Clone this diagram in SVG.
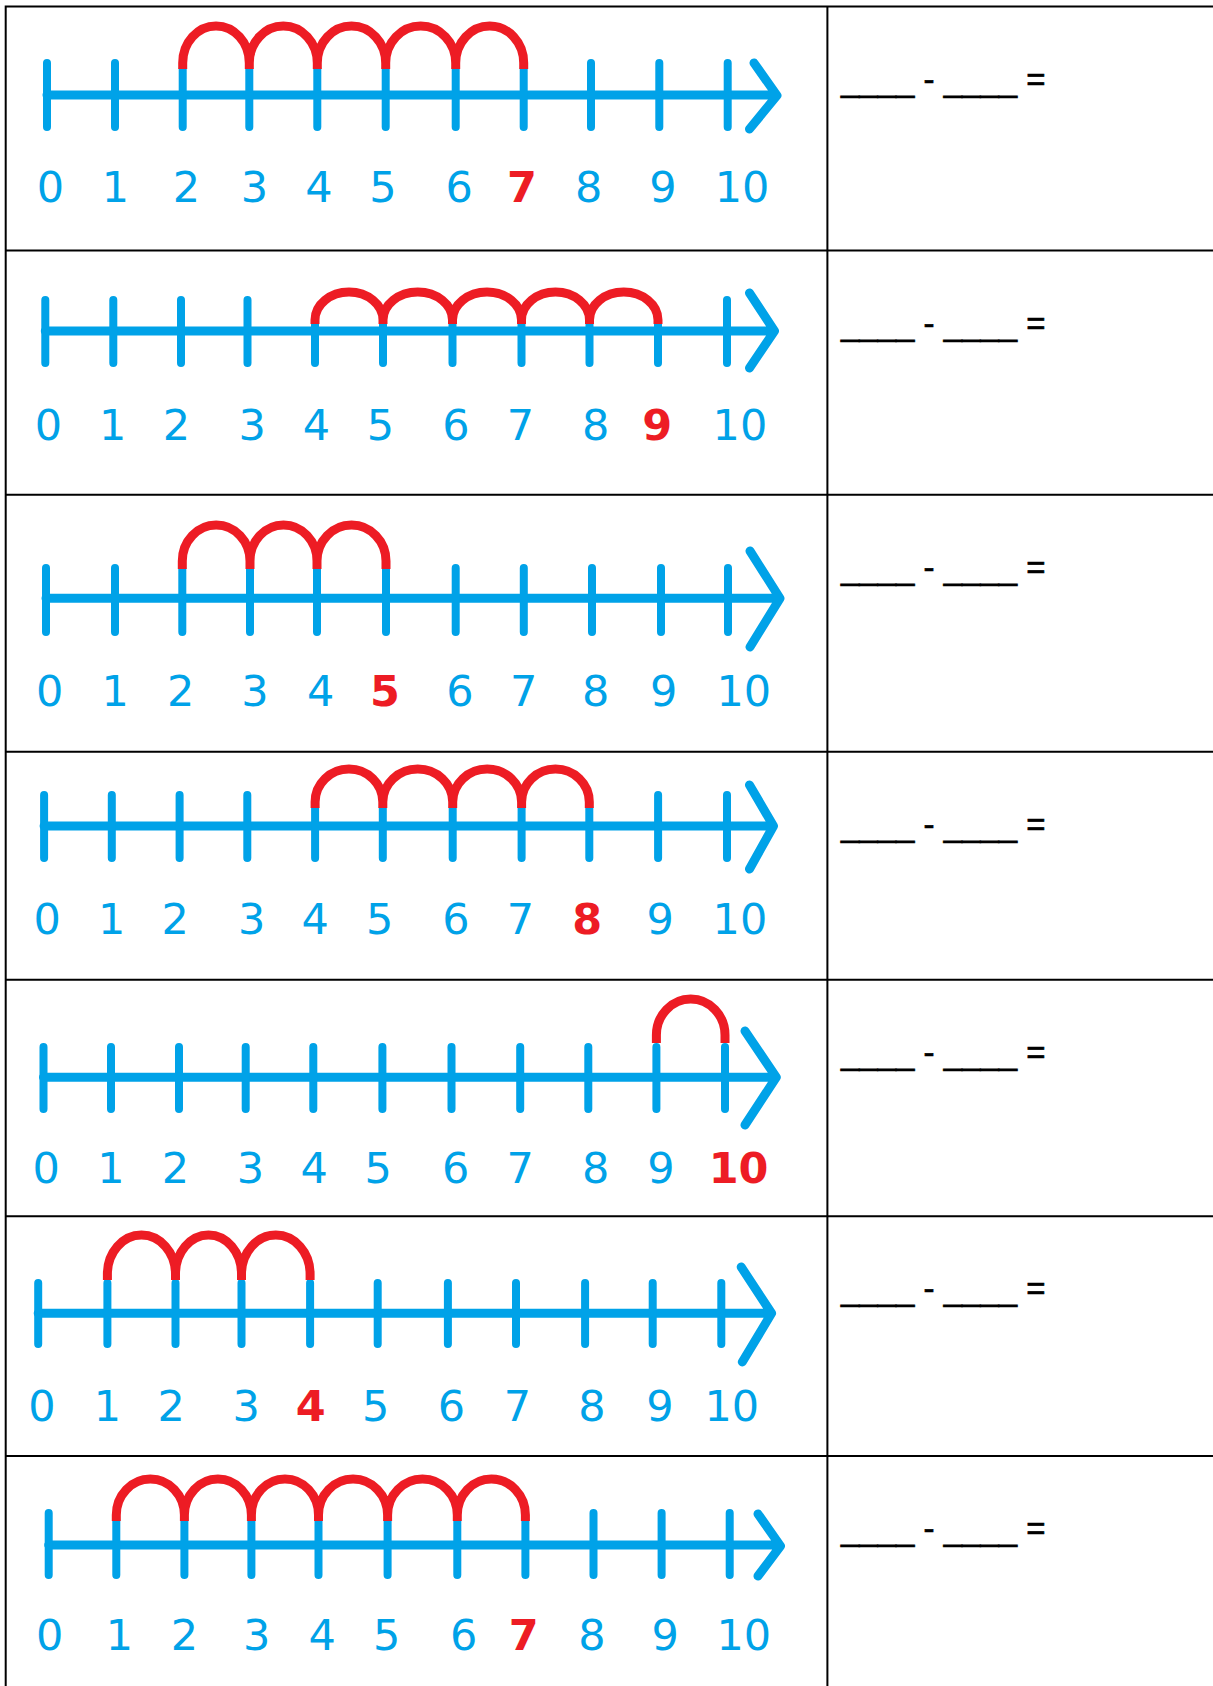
<svg xmlns="http://www.w3.org/2000/svg" width="1213" height="1686" viewBox="0 0 1213 1686">
<style>
.bg{fill:#ffffff}
.grid{stroke:#000;stroke-width:2;fill:none}
.ax{stroke:#00A2E8;stroke-width:9;fill:none;stroke-linecap:round;stroke-linejoin:round}
.tk{stroke:#00A2E8;stroke-width:8;fill:none;stroke-linecap:round}
.jp{stroke:#ED1C24;stroke-width:9;fill:none;stroke-linecap:butt}
.lb{font-family:"DejaVu Sans",sans-serif;font-size:43px;fill:#00A2E8;text-anchor:middle}
.lr{font-family:"DejaVu Sans",sans-serif;font-size:43px;font-weight:bold;fill:#ED1C24;text-anchor:middle}
.eq{font-family:"Liberation Sans",Arial,sans-serif;font-size:33px;fill:#000;stroke:#000;stroke-width:0.7}
</style>
<rect class="bg" x="0" y="0" width="1213" height="1686"/>
<g id="table">
<path class="grid" d="M5.7 5.5V1686M827.4 5.5V1686M4.7 6.5H1213M4.7 250.6H1213M4.7 494.7H1213M4.7 751.7H1213M4.7 979.7H1213M4.7 1216.3H1213M4.7 1456.1H1213"/>
</g>

<g id="row1">
<path class="ax" d="M47 95H776M754 63L777 95.5L749.5 129"/>
<path class="tk" d="M47 63V127M115 63V127M182.7 69V127M249.3 69V127M317.3 69V127M385.7 69V127M455.7 69V127M523.7 69V127M591 63V127M659.3 63V127M727.7 63V127"/>
<path class="jp" d="M182.7 69V63A33.3 37 0 0 1 249.3 63V69M249.3 69V63A34 37 0 0 1 317.3 63V69M317.3 69V63A34.2 37 0 0 1 385.7 63V69M385.7 69V63A35 37 0 0 1 455.7 63V69M455.7 69V63A34 37 0 0 1 523.7 63V69"/>
<text class="lb" y="201.5"><tspan x="50.5">0</tspan><tspan x="115.5">1</tspan><tspan x="186.5">2</tspan><tspan x="254.5">3</tspan><tspan x="319">4</tspan><tspan x="383">5</tspan><tspan x="459.3">6</tspan></text>
<text class="lr" x="522" y="201.5">7</text>
<text class="lb" y="201.5"><tspan x="588.8">8</tspan><tspan x="663">9</tspan><tspan x="742">10</tspan></text>
<text class="eq" x="841" y="90.5">____ - ____ =</text>
</g>

<g id="row2">
<path class="ax" d="M45.3 331H774M749.5 293L774.5 331L749.5 368"/>
<path class="tk" d="M45.3 300V363M113.3 300V363M181 300V363M247.5 300V363M315 324V363M383 324V363M452.5 324V363M521.5 324V363M589.5 324V363M658 324V363M727 300V363"/>
<path class="jp" d="M315 324V320A34 28 0 0 1 383 320V324M383 324V320A34.75 28 0 0 1 452.5 320V324M452.5 324V320A34.5 28 0 0 1 521.5 320V324M521.5 324V320A34 28 0 0 1 589.5 320V324M589.5 324V320A34.25 28 0 0 1 658 320V324"/>
<text class="lb" y="440"><tspan x="48.5">0</tspan><tspan x="112.8">1</tspan><tspan x="176.5">2</tspan><tspan x="252.3">3</tspan><tspan x="316.5">4</tspan><tspan x="380.5">5</tspan><tspan x="456">6</tspan><tspan x="520.5">7</tspan><tspan x="595.8">8</tspan></text>
<text class="lr" x="657.1" y="440">9</text>
<text class="lb" x="739.9" y="440">10</text>
<text class="eq" x="841" y="334.6">____ - ____ =</text>
</g>

<g id="row3">
<path class="ax" d="M46 598.3H779M750 551L780 598.3L750 647"/>
<path class="tk" d="M46 568V632M115 568V632M182.3 569V632M250 569V632M317 569V632M386 569V632M455.7 568V632M523.8 568V632M592 568V632M661 568V632M728 568V632"/>
<path class="jp" d="M182.3 569V561A33.85 36 0 0 1 250 561V569M250 569V561A33.5 36 0 0 1 317 561V569M317 569V561A34.5 36 0 0 1 386 561V569"/>
<text class="lb" y="706"><tspan x="49.8">0</tspan><tspan x="115.2">1</tspan><tspan x="180.7">2</tspan><tspan x="255">3</tspan><tspan x="320.6">4</tspan></text>
<text class="lr" x="385" y="706">5</text>
<text class="lb" y="706"><tspan x="460">6</tspan><tspan x="523.8">7</tspan><tspan x="595.6">8</tspan><tspan x="663.7">9</tspan><tspan x="743.8">10</tspan></text>
<text class="eq" x="841" y="578.7">____ - ____ =</text>
</g>

<g id="row4">
<path class="ax" d="M44.1 826H773M749.5 785L773.5 826L749.5 869"/>
<path class="tk" d="M44.1 795V858M111.8 795V858M179.6 795V858M247.3 795V858M315.1 808V858M382.8 808V858M452.7 808V858M521.6 808V858M589.3 808V858M658.1 795V858M727 795V858"/>
<path class="jp" d="M315.1 808V802A33.85 33 0 0 1 382.8 802V808M382.8 808V802A34.95 33 0 0 1 452.7 802V808M452.7 808V802A34.45 33 0 0 1 521.6 802V808M521.6 808V802A33.85 33 0 0 1 589.3 802V808"/>
<text class="lb" y="934"><tspan x="47.3">0</tspan><tspan x="111.8">1</tspan><tspan x="175.3">2</tspan><tspan x="251.6">3</tspan><tspan x="315.1">4</tspan><tspan x="379.6">5</tspan><tspan x="456">6</tspan><tspan x="520.5">7</tspan></text>
<text class="lr" x="587.2" y="934">8</text>
<text class="lb" y="934"><tspan x="660.3">9</tspan><tspan x="739.9">10</tspan></text>
<text class="eq" x="841" y="835.7">____ - ____ =</text>
</g>

<g id="row5">
<path class="ax" d="M43.5 1077.3H775M745 1031L776.3 1077.3L745 1125"/>
<path class="tk" d="M43.5 1047V1109M111 1047V1109M179 1047V1109M245.7 1047V1109M313.3 1047V1109M382.4 1047V1109M451.5 1047V1109M520.2 1047V1109M588.3 1047V1109M656.4 1047V1109M725 1047V1109"/>
<path class="jp" d="M656.4 1043V1035A34.3 36 0 0 1 725 1035V1043"/>
<text class="lb" y="1183"><tspan x="46.1">0</tspan><tspan x="111">1</tspan><tspan x="175.5">2</tspan><tspan x="250.4">3</tspan><tspan x="314.3">4</tspan><tspan x="378.2">5</tspan><tspan x="455.7">6</tspan><tspan x="520.2">7</tspan><tspan x="595.6">8</tspan><tspan x="661">9</tspan></text>
<text class="lr" x="738.6" y="1183">10</text>
<text class="eq" x="841" y="1063.7">____ - ____ =</text>
</g>

<g id="row6">
<path class="ax" d="M38.2 1313.3H770M741.2 1267L771.6 1313.3L742.3 1362"/>
<path class="tk" d="M38.2 1283V1344M107.4 1283V1344M175.5 1283V1344M241.5 1283V1344M310.1 1283V1344M377.7 1283V1344M447.9 1283V1344M516 1283V1344M585.1 1283V1344M652.7 1283V1344M721.3 1283V1344"/>
<path class="jp" d="M107.4 1280V1274A34.05 39 0 0 1 175.5 1274V1280M175.5 1280V1274A33 39 0 0 1 241.5 1274V1280M241.5 1280V1274A34.3 39 0 0 1 310.1 1274V1280"/>
<text class="lb" y="1420.5"><tspan x="41.9">0</tspan><tspan x="107.4">1</tspan><tspan x="171.3">2</tspan><tspan x="246.2">3</tspan></text>
<text class="lr" x="310.6" y="1420.5">4</text>
<text class="lb" y="1420.5"><tspan x="375.6">5</tspan><tspan x="451.5">6</tspan><tspan x="517.5">7</tspan><tspan x="591.9">8</tspan><tspan x="660">9</tspan><tspan x="731.8">10</tspan></text>
<text class="eq" x="841" y="1300.3">____ - ____ =</text>
</g>

<g id="row7">
<path class="ax" d="M48.7 1545H779M758 1514L780.5 1546L758 1576"/>
<path class="tk" d="M48.7 1513V1575M116.3 1521V1575M184.4 1521V1575M251.4 1521V1575M318.5 1521V1575M387.6 1521V1575M457.3 1521V1575M525.4 1521V1575M593.5 1513V1575M661.6 1513V1575M729.7 1513V1575"/>
<path class="jp" d="M116.3 1521V1515A34.05 36 0 0 1 184.4 1515V1521M184.4 1521V1515A33.5 36 0 0 1 251.4 1515V1521M251.4 1521V1515A33.55 36 0 0 1 318.5 1515V1521M318.5 1521V1515A34.55 36 0 0 1 387.6 1515V1521M387.6 1521V1515A34.85 36 0 0 1 457.3 1515V1521M457.3 1521V1515A34.05 36 0 0 1 525.4 1515V1521"/>
<text class="lb" y="1650"><tspan x="49.8">0</tspan><tspan x="119.4">1</tspan><tspan x="184.4">2</tspan><tspan x="256.7">3</tspan><tspan x="322.2">4</tspan><tspan x="386.6">5</tspan><tspan x="463.6">6</tspan></text>
<text class="lr" x="523.8" y="1650">7</text>
<text class="lb" y="1650"><tspan x="591.9">8</tspan><tspan x="665.3">9</tspan><tspan x="743.8">10</tspan></text>
<text class="eq" x="841" y="1540.1">____ - ____ =</text>
</g>
</svg>
